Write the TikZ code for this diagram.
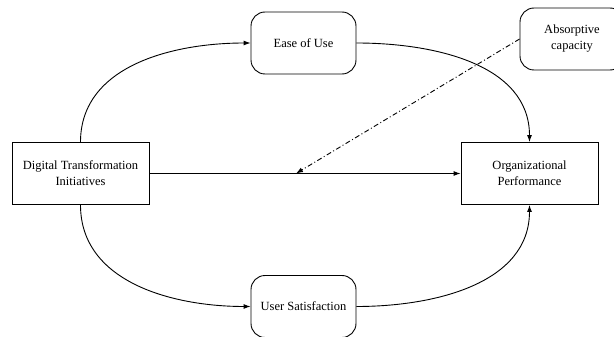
\documentclass[tikz,border=0pt]{standalone}
\usepackage{fontspec}
\setmainfont{Liberation Serif}
\usetikzlibrary{arrows.meta,positioning,calc}
\tikzset{
  sqbox/.style={rectangle,draw=black,fill=white,align=center,
    minimum width=137pt,minimum height=62pt,inner sep=0pt,line width=0.9pt},
  rndbox/.style={sqbox,rounded corners=14pt,minimum width=105pt},
  pedge/.style={-{Latex[length=7pt,width=5pt]},line width=0.9pt},
  medge/.style={pedge,dash pattern=on 5pt off 2.5pt on 1pt off 2.5pt},
}

\begin{document}
\begin{tikzpicture}[x=1pt,y=-1pt,font=\fontsize{12.5}{16}\selectfont]
  \useasboundingbox (0,0) rectangle (614,337);
  \clip (0,0) rectangle (614,337);

  \node[sqbox] (dti) at (80.5,173.5){Digital Transformation\\Initiatives};
  \node[sqbox] (op) at (529.5,173.5){Organizational\\Performance};
  \node[rndbox] (eou) at (303.5,43){Ease of Use};
  \node[rndbox] (us) at (303.5,306.5){User Satisfaction};
  \node[rndbox,minimum width=104pt] (abs) at (572,39){Absorptive\\capacity};
  \coordinate (mod) at (296,173.5);

  \draw[pedge] (dti.north) to[out=90,in=180] (eou.west);
  \draw[pedge] (eou.east) to[out=0,in=90] (op.north);
  \draw[pedge] (dti.south) to[out=-90,in=180] (us.west);
  \draw[pedge] (us.east) to[out=0,in=-90] (op.south);
  \draw[pedge] (dti) -- (op);
  \draw[medge] (abs.west) -- (mod);
\end{tikzpicture}
\end{document}
